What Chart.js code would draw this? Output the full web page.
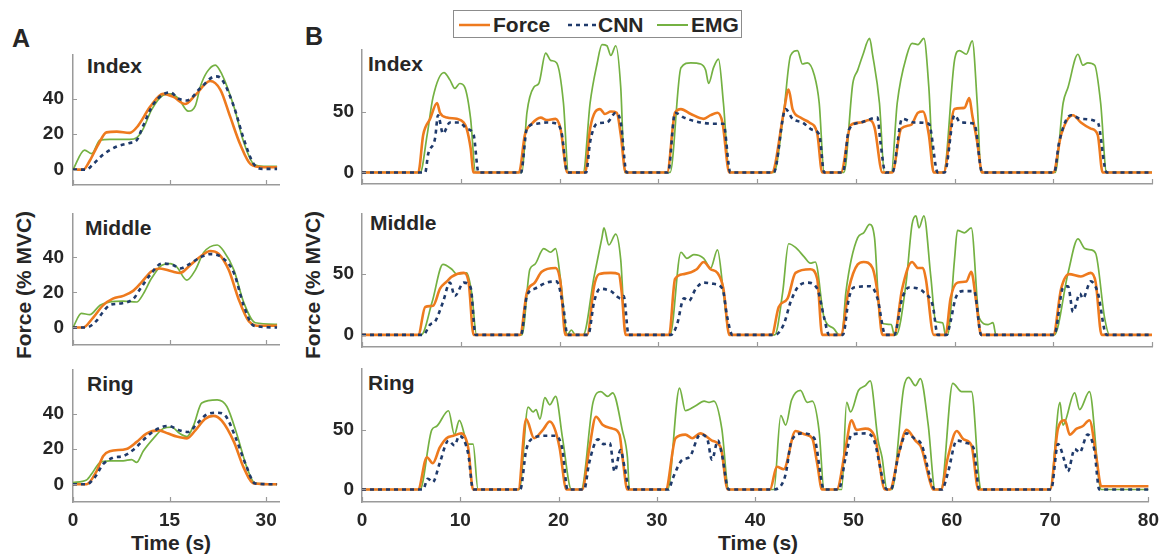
<!DOCTYPE html>
<html>
<head>
<meta charset="utf-8">
<script src="https://cdn.jsdelivr.net/npm/chart.js@4.4.1/dist/chart.umd.min.js"></script>
<style>
  body { margin: 0; background: #fff; width: 1167px; height: 559px; position: relative; overflow: hidden;
         font-family: "Liberation Sans", Arial, sans-serif; font-weight: bold; color: #262626; }
  canvas { position: absolute; }
  .lbl { position: absolute; white-space: nowrap; font-size: 21px; line-height: 1; }
  .panel { font-size: 25px; }
  .ylab { transform: translate(-50%, -50%) rotate(-90deg); }
  .xlab { transform: translateX(-50%); }
  #legend { position: absolute; left: 453px; top: 10px; width: 287px; height: 26px; border: 1px solid #8c8c8c; background: #fff; }
  #legend span { position: absolute; top: 3px; font-size: 21px; line-height: 1; }
  #legend svg { position: absolute; top: 0; }
</style>
</head>
<body>

<div class="lbl panel" style="left:12px; top:26px;">A</div>
<div class="lbl panel" style="left:305px; top:24px;">B</div>

<div class="lbl" style="left:87px; top:55px;">Index</div>
<div class="lbl" style="left:85px; top:217px;">Middle</div>
<div class="lbl" style="left:87px; top:373px;">Ring</div>
<div class="lbl" style="left:368px; top:53px;">Index</div>
<div class="lbl" style="left:370px; top:212px;">Middle</div>
<div class="lbl" style="left:368px; top:372px;">Ring</div>

<div class="lbl ylab" style="left:23px; top:285px;">Force (% MVC)</div>
<div class="lbl ylab" style="left:312px; top:285px;">Force (% MVC)</div>
<div class="lbl xlab" style="left:171px; top:532px;">Time (s)</div>
<div class="lbl xlab" style="left:758px; top:532px;">Time (s)</div>

<div id="legend">
  <svg width="287" height="26">
    <line x1="5" y1="14" x2="36" y2="14" stroke="#EE7A1E" stroke-width="2.5"/>
    <line x1="114" y1="14" x2="142" y2="14" stroke="#1F3A6B" stroke-width="2.5" stroke-dasharray="4,4"/>
    <line x1="203" y1="14" x2="234" y2="14" stroke="#74B142" stroke-width="2"/>
  </svg>
  <span style="left:39px;">Force</span>
  <span style="left:144px;">CNN</span>
  <span style="left:237px;">EMG</span>
</div>

<script>
// ---- data: [time (s), force (% MVC)] ----
const xTicksA = [0, 15, 30];
const yTicksA = [0, 20, 40];
const xTicksB = [0, 10, 20, 30, 40, 50, 60, 70, 80];
const yTicksB = [0, 50];

// Panel A, Index
const indexForceA = [[0,0],[1.6,0],[2.6,5],[3.9,14],[5.2,21],[6.8,21.4],[8.8,20.7],[10.1,24.7],[12.0,35.5],[14.0,42.7],[15.6,41],[17.4,37],[19.0,42],[21.3,50],[22.9,45],[24.4,30],[26.0,14],[27.6,3],[29.6,1.3],[31.7,1.3]];
const indexCnnA = [[0,0],[2.1,0],[3.1,3],[4.7,8.5],[6.8,13],[8.8,15],[9.9,16.6],[10.9,24.7],[12.5,37],[15.1,43.6],[16.4,40],[17.7,39],[19.8,46],[22.1,52.6],[23.1,51],[25.0,35.5],[26.5,17.5],[28.1,3],[29.6,0.4],[31.7,0.4]];
const indexEmgA = [[0,0],[1.8,11],[2.9,9],[4.2,16.6],[5.7,17],[8.8,17],[9.9,18],[10.9,23],[12.2,33.7],[14.0,42],[15.1,42.7],[16.4,40],[17.9,33],[19.0,36],[19.8,47],[20.8,55],[22.1,59],[23.1,54],[25.0,35.5],[26.5,15.7],[28.1,3],[29.6,1.8],[31.7,1.8]];

// Panel A, Middle
const middleForceA = [[0,0],[1.6,0],[3.1,5.5],[4.7,12.7],[6.2,16.4],[7.8,18],[9.4,21],[10.7,26],[12.2,32],[13.5,33.6],[15.3,32],[16.6,31],[18.2,35.5],[20.0,41],[21.3,43.6],[22.6,42],[24.2,32.7],[25.7,16.4],[27.3,3.6],[29.1,1],[31.7,1]];
const middleCnnA = [[0,0],[2.1,0],[3.6,3.6],[4.7,9],[5.7,12.7],[7.3,13.6],[9.4,16.4],[10.4,21.8],[12.0,30],[13.8,36.4],[15.6,35.5],[16.6,33.6],[18.2,36.4],[19.8,40],[21.3,41.8],[23.1,40],[25.0,31],[26.5,12.7],[28.1,1],[31.7,0]];
const middleEmgA = [[0,0],[1.3,8],[2.6,7.3],[4.2,12.7],[5.7,14.5],[7.8,15],[9.9,14.5],[10.9,19],[12.2,28],[13.8,35.5],[15.1,36.4],[16.1,34.5],[17.7,27],[19.0,32.7],[20.3,42.7],[22.4,47],[23.4,43.6],[25.0,32.7],[26.5,14.5],[28.3,2.7],[31.7,1.8]];

// Panel A, Ring
const ringForceA = [[0,0],[2.1,0],[3.6,7],[4.7,16],[5.7,18.7],[8.3,20],[9.9,24],[11.4,28.7],[13.3,30.5],[14.8,28.7],[16.1,27],[17.7,26],[19.0,30.5],[20.5,37],[21.8,38.7],[23.1,36],[25.0,24],[26.5,9.6],[28.1,0.5],[31.7,0]];
const ringCnnA = [[0,0],[2.1,0],[3.4,4],[4.7,11.5],[6.2,15],[7.8,16],[9.4,19.6],[10.9,25],[12.7,30.5],[14.8,33],[16.6,30.5],[17.9,29.6],[19.2,34],[20.8,39.6],[22.4,40.5],[23.7,38.7],[25.2,27],[26.8,11.5],[28.3,0.5],[31.7,0]];
const ringEmgA = [[0,1],[2.1,2.4],[3.1,7],[4.2,12.4],[5.7,13.3],[7.8,13.3],[9.1,14],[9.9,12.4],[10.9,18.7],[12.5,26],[14.0,31.5],[15.3,32.4],[16.6,28.7],[17.7,27],[18.7,33],[20.0,46],[22.4,47.8],[23.9,44],[25.5,27.8],[27.0,9.6],[28.3,0.5],[31.7,0]];

// Panel B, Index
const indexForceB = [[0,0],[5.7,0],[6.2,31],[6.9,44],[7.6,57],[7.9,49],[8.6,45],[9.6,44],[10.3,41],[10.6,36],[11.0,20],[11.3,0],
  [15.9,0],[16.5,31],[17.2,40],[18.1,45],[18.7,43],[19.6,44],[20.1,36],[20.8,0],
  [22.6,0],[23.1,36],[24.1,52],[24.6,48],[25.2,50],[25.8,49],[26.2,31],[26.7,0],
  [30.9,0],[31.7,49],[32.3,52],[33.3,48],[34.6,44],[35.3,47],[36.0,49],[36.5,41],[37.2,0],
  [41.5,0],[42.7,49],[43.2,68],[43.6,52],[44.4,45],[45.3,41],[46.1,32],[46.6,0],
  [48.5,0],[49.5,39],[50.5,41],[51.4,43],[51.9,37],[52.7,0],
  [53.7,0],[54.6,36],[55.6,39],[56.3,49],[56.8,50],[57.4,31],[57.9,0],
  [58.9,0],[60.0,52],[61.0,53],[61.5,61],[61.8,47],[62.3,25],[62.8,0],
  [70.0,0],[70.8,31],[72.0,47],[72.8,41],[73.8,36],[74.5,31],[75.0,0],[80,0]];
const indexCnnB = [[0,0],[6.4,0],[6.7,15],[7.4,28],[7.7,47],[8.2,32],[8.9,41],[9.9,41],[10.6,36],[11.3,31],[11.8,0],
  [16.1,0],[16.7,36],[17.7,40],[18.7,41],[19.7,40],[20.2,33],[20.8,0],
  [22.7,0],[23.1,25],[23.8,40],[24.8,41],[25.7,49],[26.2,41],[26.8,0],
  [31.0,0],[31.7,49],[32.6,45],[34.3,41],[35.6,40],[36.6,40],[37.3,0],
  [41.7,0],[42.9,52],[43.6,44],[44.6,41],[45.6,35],[46.3,31],[46.8,0],
  [48.7,0],[49.3,35],[50.5,41],[52.2,45],[52.5,25],[53.0,0],
  [53.7,0],[54.7,44],[55.9,41],[57.4,40],[58.3,0],
  [59.0,0],[60.0,47],[60.6,41],[62.0,40],[62.8,0],
  [70.1,0],[70.6,25],[71.8,47],[72.8,44],[74.5,41],[75.4,0],[80,0]];
const indexEmgB = [[0,0],[5.9,0],[6.6,31],[7.2,62],[8.3,82],[8.9,76],[9.4,69],[9.9,73],[10.4,70],[11.0,44],[11.5,0],
  [16.2,0],[16.7,49],[17.4,70],[17.9,73],[18.6,98],[19.1,92],[19.7,90],[20.4,57],[20.9,0],
  [22.4,0],[23.1,57],[23.8,89],[24.3,105],[24.8,104],[25.2,96],[25.7,104],[26.2,70],[26.6,0],
  [31.2,0],[32.3,86],[33.3,90],[34.3,89],[34.8,84],[35.1,73],[35.6,86],[36.1,93],[36.6,57],[37.2,0],
  [41.7,0],[42.7,49],[43.4,96],[44.1,100],[44.6,89],[45.1,90],[45.8,80],[46.3,57],[46.8,0],
  [48.8,0],[49.7,73],[50.2,84],[50.7,96],[51.4,110],[51.7,97],[52.4,57],[52.9,0],
  [53.6,0],[54.2,57],[55.2,97],[55.7,106],[56.3,105],[56.9,110],[57.4,70],[57.9,0],
  [58.9,0],[60.0,92],[60.5,100],[61.2,97],[61.8,108],[62.3,57],[62.7,0],
  [70.2,0],[71.0,57],[71.5,70],[72.5,97],[73.0,88],[73.5,90],[74.2,88],[74.8,57],[75.4,0],[80,0]];

// Panel B, Middle
const middleForceB = [[0,0],[5.7,0],[6.4,23],[7.2,24],[7.9,38],[8.6,44],[9.1,48],[10.3,51],[10.8,43],[11.3,0],
  [16.0,0],[16.7,35],[17.5,43],[18.2,52],[19.6,55],[20.1,43],[20.6,0],
  [22.8,0],[23.5,40],[24.0,50],[25.2,51],[26.0,50],[26.3,35],[26.7,0],
  [31.1,0],[31.7,46],[32.6,50],[33.9,54],[34.6,60],[35.3,54],[36.0,51],[36.6,38],[37.2,0],
  [41.5,0],[42.2,23],[43.1,30],[43.9,51],[45.4,54],[46.1,46],[46.6,0],
  [48.5,0],[49.3,38],[50.2,58],[50.8,60],[51.7,55],[52.2,35],[52.7,0],
  [53.9,0],[54.7,38],[55.7,60],[56.3,55],[56.8,55],[57.1,46],[57.9,0],
  [59.1,0],[59.6,30],[60.3,43],[61.2,44],[61.7,52],[62.2,27],[62.7,0],
  [70.0,0],[70.8,38],[71.6,50],[72.8,48],[73.8,51],[74.3,43],[74.9,0],[80,0]];
const middleCnnB = [[0,0],[6.2,0],[6.9,8.5],[7.4,11],[8.2,27],[8.9,43],[9.4,32],[10.3,43],[11.0,39],[11.5,0],
  [16.1,0],[16.7,32],[17.5,38],[18.7,43],[19.7,44],[20.4,22],[20.8,0],
  [22.9,0],[23.5,27],[24.1,38],[25.2,36],[26.2,30],[26.5,32],[27.0,0],
  [31.3,0],[31.9,8.5],[32.6,30],[33.1,28],[33.8,38],[34.6,43],[35.6,42],[36.5,38],[37.0,14],[37.5,0],
  [41.8,0],[42.7,8.5],[43.4,27],[44.1,39],[45.1,43],[46.1,38],[46.8,14],[47.3,0],
  [48.7,0],[49.3,30],[49.8,39],[51.5,40],[52.2,30],[53.0,0],
  [53.9,0],[54.7,30],[55.4,39],[56.3,38],[56.9,35],[57.8,24],[58.3,0],
  [59.2,0],[59.6,11],[60.1,30],[60.8,36],[62.0,36],[62.7,0],
  [70.1,0],[71.0,39],[71.5,40],[72.0,19],[72.7,34],[73.0,30],[73.8,44],[74.5,35],[75.4,0],[80,0]];
const middleEmgB = [[0,0],[6.0,0],[7.1,27],[8.2,58],[9.1,54],[9.6,50],[10.6,51],[11.1,35],[11.6,0],
  [16.2,0],[17.0,54],[17.5,58],[18.4,71],[19.1,68],[19.6,71],[20.1,46],[20.8,0],[21.2,4],[21.6,0],
  [22.4,0],[23.5,48],[24.3,80],[24.5,88],[25.0,74],[25.7,83],[26.2,62],[26.7,0],
  [31.2,0],[32.3,68],[32.9,63],[33.6,66],[34.6,63],[35.3,55],[36.0,70],[36.6,35],[37.2,0],
  [41.8,0],[42.6,35],[43.2,75],[43.9,72],[44.8,64],[45.4,59],[45.9,60],[46.8,14],[47.8,5],[48.3,0],
  [48.6,0],[49.0,35],[50.2,80],[50.8,84],[51.4,91],[51.9,80],[52.5,10],[53.6,8.5],[53.9,0],
  [54.1,0],[55.1,43],[55.7,91],[56.1,98],[56.4,88],[56.9,98],[57.6,48],[58.1,11],[58.8,10],[59.1,0],
  [59.3,0],[60.0,62],[60.3,86],[61.0,84],[61.7,88],[62.5,14],[63.4,8.5],[63.9,10],[64.2,0],
  [70.1,0],[71.5,51],[72.5,79],[73.2,71],[73.8,70],[74.3,67],[75.2,14],[75.7,0],[80,0]];

// Panel B, Ring
const ringForceB = [[0,0],[5.7,0],[6.6,27],[7.2,22],[7.9,35],[8.6,43],[9.3,45],[10.1,47],[10.8,35],[11.3,0],
  [15.9,0],[16.7,59],[17.5,43],[18.4,50],[19.1,57],[19.6,51],[20.1,35],[20.8,0],
  [22.4,0],[23.1,33],[23.8,61],[24.5,54],[25.5,51],[26.2,46],[26.5,27],[27.0,0],
  [30.9,0],[31.9,43],[32.9,46],[33.6,43],[34.4,47],[35.6,41],[36.5,35],[37.2,0],
  [41.5,0],[42.2,19],[42.9,17],[44.1,49],[45.1,46],[45.8,43],[46.3,22],[46.8,0],
  [48.3,0],[49.2,35],[49.8,58],[50.3,50],[51.2,51],[52.2,43],[53.2,0],
  [53.7,0],[54.6,30],[55.4,50],[56.3,41],[56.9,35],[57.8,6],[58.1,0],
  [58.9,0],[59.6,27],[60.5,49],[61.2,42],[62.0,37],[62.7,0],
  [70.0,0],[70.8,51],[71.5,58],[72.0,46],[72.7,51],[73.3,53],[74.0,58],[74.7,27],[75.2,2.7],[80,2.7]];
const ringCnnB = [[0,0],[6.2,0],[6.7,9],[7.2,6],[7.9,22],[8.8,41],[9.4,37],[9.9,45],[10.8,30],[11.3,0],
  [16.1,0],[16.7,33],[17.4,43],[18.7,45],[19.7,45],[20.4,33],[20.9,0],
  [22.6,0],[23.1,22],[24.0,42],[24.6,38],[25.2,39],[25.7,15],[26.3,33],[26.7,19],[27.2,0],
  [31.2,0],[31.6,9],[32.6,25],[33.3,27],[34.4,46],[35.1,43],[35.6,25],[36.2,41],[36.6,30],[37.3,0],
  [41.8,0],[42.6,3],[43.1,13],[43.7,41],[44.8,47],[46.0,43],[47.0,0],
  [48.5,0],[49.2,27],[49.8,46],[51.2,47],[52.0,43],[53.4,0],
  [53.8,0],[54.6,30],[55.4,47],[56.3,42],[56.9,38],[58.3,0],
  [59.0,0],[59.6,14],[60.5,41],[61.5,39],[62.2,35],[62.8,0],
  [70.1,0],[70.8,38],[71.5,23],[71.8,15],[72.5,34],[73.0,31],[73.8,46],[74.5,33],[75.0,0],[80,0]];
const ringEmgB = [[0,0],[5.9,0],[7.1,50],[7.6,53],[8.8,66],[9.4,46],[9.9,58],[10.8,38],[11.3,38],[11.8,0],
  [16.0,0],[16.9,69],[17.4,65],[17.7,67],[18.1,59],[18.6,77],[19.1,71],[19.7,78],[20.4,43],[21.3,0],
  [22.3,0],[23.5,73],[24.3,82],[25.0,78],[25.5,81],[26.5,49],[27.0,27],[27.2,0],
  [31.1,0],[32.3,85],[32.9,66],[33.9,70],[34.8,74],[35.3,73],[35.8,74],[36.6,51],[37.3,0],
  [41.9,0],[42.6,62],[43.1,54],[43.7,75],[44.6,83],[45.3,73],[45.8,74],[46.5,49],[47.0,0],
  [48.8,0],[49.3,73],[49.7,65],[50.5,83],[51.2,87],[51.7,91],[52.5,41],[52.9,27],[53.4,0],
  [53.9,0],[55.1,85],[55.6,94],[56.3,87],[56.8,93],[57.6,54],[58.3,0],
  [58.9,0],[60.1,89],[61.0,82],[62.0,82],[62.8,6],[63.0,0],
  [70.0,0],[71.0,73],[71.3,54],[72.5,81],[73.0,67],[74.0,82],[75.0,6],[75.2,0],[80,0]];

// ---- look ----
const FORCE_COL = '#EE7A1E';
const CNN_COL = '#1F3A6B';
const EMG_COL = '#74B142';
const AXIS_COL = '#9a9a9a';
const TEXT_COL = '#262626';
Chart.defaults.font.family = '"Liberation Sans", Arial, sans-serif';

// plot rectangles in page pixels (l, t, r, b) and axis ranges
const panels = [
  { l: 73,  t: 48,  r: 279,  b: 185, xmax: 32, ymin: -8.7, ymax: 65,  xt: xTicksA, yt: yTicksA, xlab: false, f: indexForceA,  c: indexCnnA,  e: indexEmgA },
  { l: 73,  t: 207, r: 279,  b: 345, xmax: 32, ymin: -10,  ymax: 65,  xt: xTicksA, yt: yTicksA, xlab: false, f: middleForceA, c: middleCnnA, e: middleEmgA },
  { l: 73,  t: 363, r: 279,  b: 502, xmax: 32, ymin: -10,  ymax: 65,  xt: xTicksA, yt: yTicksA, xlab: true,  f: ringForceA,   c: ringCnnA,   e: ringEmgA },
  { l: 362, t: 44,  r: 1152, b: 184, xmax: 80, ymin: -9.5, ymax: 101, xt: xTicksB, yt: yTicksB, xlab: false, f: indexForceB,  c: indexCnnB,  e: indexEmgB },
  { l: 362, t: 208, r: 1152, b: 347, xmax: 80, ymin: -10,  ymax: 100, xt: xTicksB, yt: yTicksB, xlab: false, f: middleForceB, c: middleCnnB, e: middleEmgB },
  { l: 362, t: 363, r: 1152, b: 502, xmax: 80, ymin: -10.5,ymax: 101.5,xt: xTicksB, yt: yTicksB, xlab: true, f: ringForceB,   c: ringCnnB,   e: ringEmgB }
];

const PAD_L = 70, PAD_T = 14, PAD_R = 14, PAD_B = 45;

// MATLAB style ticks pointing into the plot
const inTicks = {
  id: 'inTicks',
  afterDraw(chart) {
    const { ctx, chartArea: a, scales: { x, y } } = chart;
    ctx.save();
    ctx.strokeStyle = AXIS_COL;
    ctx.lineWidth = 1.2;
    ctx.beginPath();
    x.ticks.forEach(t => {
      const px = Math.round(x.getPixelForValue(t.value)) + 0.5;
      ctx.moveTo(px, a.bottom);
      ctx.lineTo(px, a.bottom - 5);
    });
    y.ticks.forEach(t => {
      const py = Math.round(y.getPixelForValue(t.value)) + 0.5;
      ctx.moveTo(a.left, py);
      ctx.lineTo(a.left + 4, py);
    });
    ctx.stroke();
    ctx.restore();
  }
};

const toXY = arr => arr.map(([x, y]) => ({ x, y }));

panels.forEach(p => {
  const cv = document.createElement('canvas');
  const w = p.r - p.l + PAD_L + PAD_R;
  const h = p.b - p.t + PAD_T + PAD_B;
  cv.width = w; cv.height = h;
  cv.style.left = (p.l - PAD_L) + 'px';
  cv.style.top = (p.t - PAD_T) + 'px';
  cv.style.width = w + 'px';
  cv.style.height = h + 'px';
  document.body.appendChild(cv);

  const tickFont = { size: 19, weight: 'bold' };

  new Chart(cv, {
    type: 'line',
    data: {
      datasets: [
        { label: 'CNN', data: toXY(p.c), borderColor: CNN_COL, borderWidth: 2.6, borderDash: [4, 4], order: 1, clip: false },
        { label: 'Force', data: toXY(p.f), borderColor: FORCE_COL, borderWidth: 2.6, order: 2, clip: false },
        { label: 'EMG', data: toXY(p.e), borderColor: EMG_COL, borderWidth: 1.7, order: 3, clip: false }
      ]
    },
    options: {
      responsive: false,
      animation: false,
      events: [],
      layout: { padding: { left: 0, top: PAD_T, right: PAD_R, bottom: 0 } },
      plugins: { legend: { display: false }, tooltip: { enabled: false } },
      elements: {
        point: { radius: 0 },
        line: { cubicInterpolationMode: 'monotone', borderJoinStyle: 'round' }
      },
      scales: {
        x: {
          type: 'linear', min: 0, max: p.xmax,
          afterBuildTicks: s => { s.ticks = p.xt.map(v => ({ value: v })); },
          afterFit: s => { s.height = PAD_B; },
          grid: { display: false, drawTicks: false },
          border: { display: true, color: AXIS_COL, width: 1.5 },
          ticks: { display: p.xlab, padding: 7, color: TEXT_COL, font: tickFont, maxRotation: 0 }
        },
        y: {
          type: 'linear', min: p.ymin, max: p.ymax,
          afterBuildTicks: s => { s.ticks = p.yt.map(v => ({ value: v })); },
          afterFit: s => { s.width = PAD_L; },
          grid: { display: false, drawTicks: false },
          border: { display: true, color: AXIS_COL, width: 1.5 },
          ticks: { padding: p.xmax > 40 ? 8 : 9, color: TEXT_COL, font: tickFont }
        }
      }
    },
    plugins: [inTicks]
  });
});
</script>
</body>
</html>
